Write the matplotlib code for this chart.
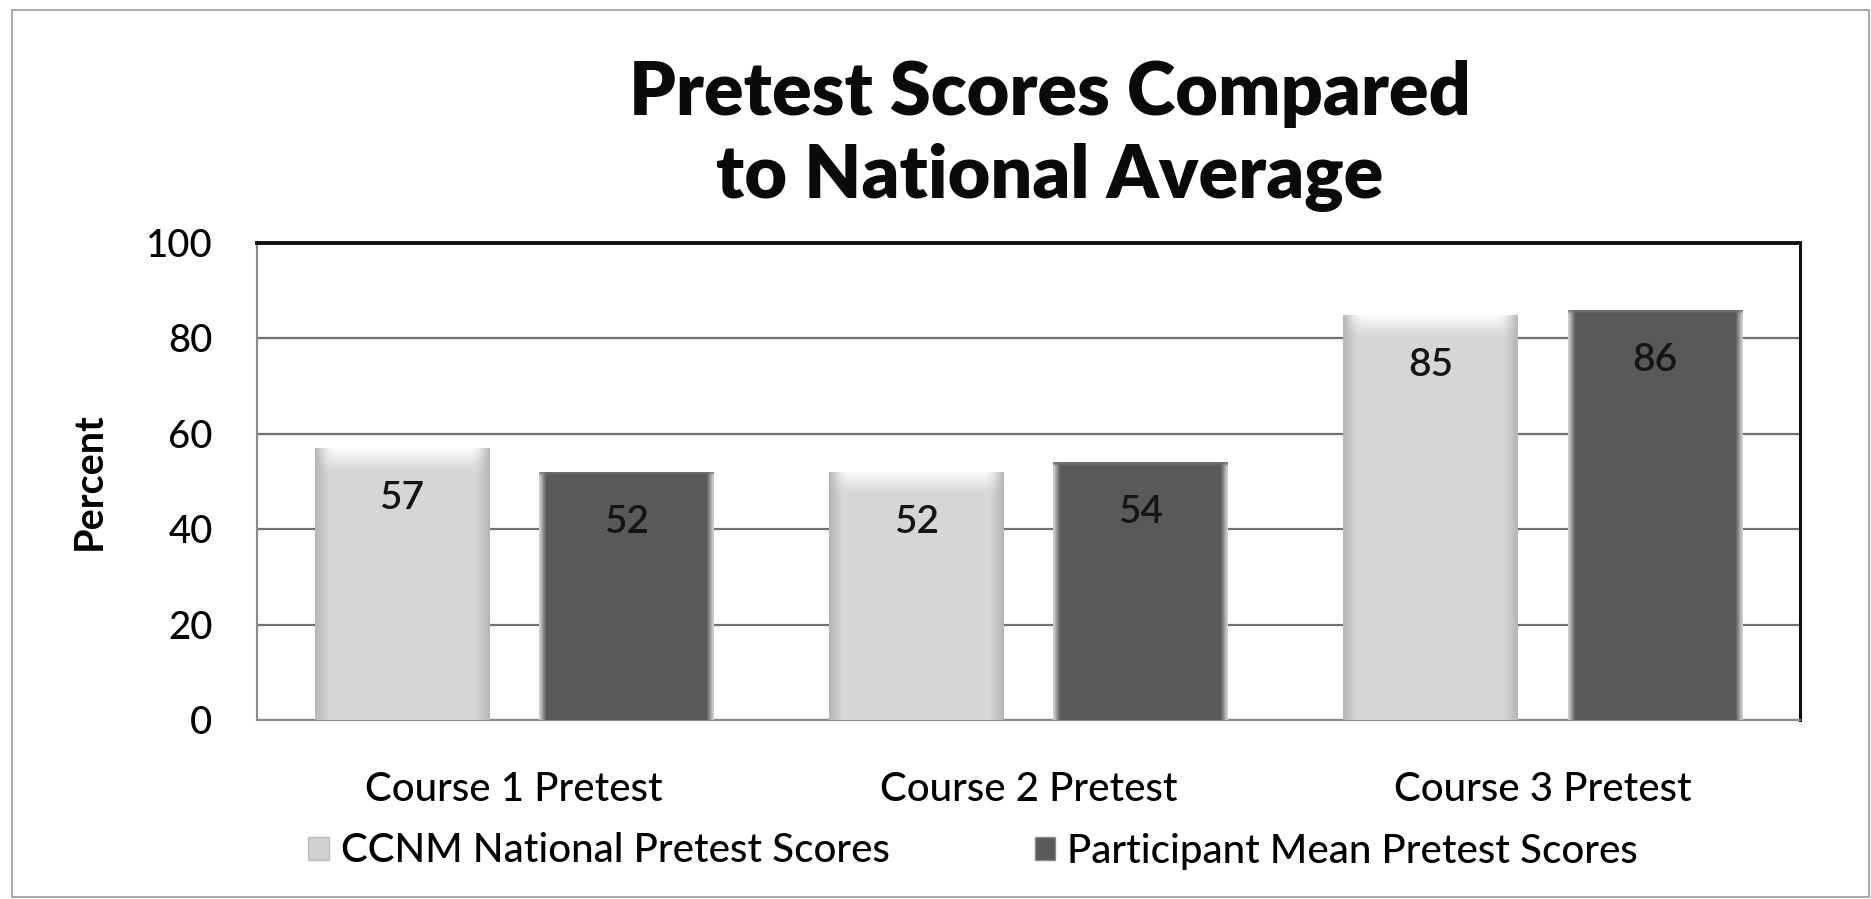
import numpy as np
import matplotlib
matplotlib.use("Agg")
import matplotlib.pyplot as plt
from matplotlib.patches import Patch, Rectangle

categories = ["Course 1 Pretest", "Course 2 Pretest", "Course 3 Pretest"]
series_names = ["CCNM National Pretest Scores", "Participant Mean Pretest Scores"]
national = [57, 52, 85]
participant = [52, 54, 86]
yticks = [0, 20, 40, 60, 80, 100]

plt.rcParams['font.family'] = ['Lato', 'DejaVu Sans']

W, H = 1871, 899
fig = plt.figure(figsize=(W / 100, H / 100), dpi=100)
fig.patch.set_facecolor('white')

# outer chart border
fig.add_artist(Rectangle((12 / W, 1 - 897 / H), (W - 14) / W, (897 - 10) / H,
                         transform=fig.transFigure, fill=False,
                         edgecolor='#9a9a9a', linewidth=1.2))

ax = fig.add_axes([257 / W, 1 - 720 / H, 1543 / W, 477 / H])

x = np.arange(len(categories))
off = 0.218
bw = 0.34

light = '#d8d8d8'
dark = '#5a5a5a'

b1 = ax.bar(x - off, national, bw, color=light, zorder=3, edgecolor='none')
b2 = ax.bar(x + off, participant, bw, color=dark, zorder=3, edgecolor='none')


def shade(rect, kind):
    x0 = rect.get_x()
    w = rect.get_width()
    h = rect.get_height()
    nu, nv = 80, 200
    u = np.linspace(0, 1, nu)[None, :]
    v = np.linspace(0, 1, nv)[:, None]
    edge = np.minimum(u, 1 - u) * w  # data units (x)
    top = (1 - v) * h  # data units (y)
    if kind == 'light':
        base = np.full((nv, nu), 0.84)
        side = np.clip(1 - edge / 0.025, 0, 1)
        base = base - 0.12 * side
        hl = np.clip(1 - top / 4.5, 0, 1)
        hl = hl * np.clip(edge / 0.035, 0, 1)
        base = base * (1 - hl) + 0.99 * hl
    else:
        base = np.full((nv, nu), 0.35)
        side = np.clip(1 - edge / 0.012, 0, 1)
        base = base * (1 - side) + 0.80 * side
        tp = np.clip(1 - top / 0.8, 0, 1)
        base = base * (1 - tp) + 0.45 * tp
    rgb = np.dstack([base, base, base])
    im = ax.imshow(rgb, extent=[x0, x0 + w, 0, h], origin='lower',
                   aspect='auto', zorder=3.5, interpolation='bilinear')
    im.set_clip_path(rect)


for r in b1:
    shade(r, 'light')
for r in b2:
    shade(r, 'dark')

ax.set_xlim(-0.5, len(categories) - 0.5)
ax.set_ylim(0, 100)
ax.set_yticks(yticks)
ax.set_xticks(x)
ax.set_xticklabels(categories, fontsize=29, fontweight='medium')
for t in ax.get_yticklabels():
    t.set_fontweight('medium')
ax.tick_params(axis='y', length=0, pad=32, labelsize=27.5)
ax.tick_params(axis='x', length=0, pad=37)
ax.yaxis.grid(True, color='#707070', linewidth=1.6, zorder=0)
ax.set_axisbelow(True)

for s in ['left', 'bottom']:
    ax.spines[s].set_color('#8a8a8a')
    ax.spines[s].set_linewidth(1.5)
ax.spines['top'].set_color('#111111')
ax.spines['top'].set_linewidth(2.8)
ax.spines['right'].set_color('#111111')
ax.spines['right'].set_linewidth(2.2)

ax.set_ylabel('Percent', fontsize=28.5, fontweight='bold')
ax.yaxis.set_label_coords(-0.097, 0.5)

for bars, vals in ((b1, national), (b2, participant)):
    for r, v in zip(bars, vals):
        ax.annotate(f'{v}', (r.get_x() + r.get_width() / 2, v),
                    xytext=(0, -36), textcoords='offset points',
                    ha='center', va='center', fontsize=28, color='#151515',
                    fontweight='semibold', zorder=5)

fig.text(1050 / W, 1 - 136 / H, 'Pretest Scores Compared\nto National Average',
         ha='center', va='center', fontsize=53, fontweight='heavy',
         linespacing=1.28, color='#0a0a0a')

handles = [Patch(facecolor='#d0d0d0', edgecolor='#bdbdbd'),
           Patch(facecolor=dark, edgecolor='#8a8a8a')]
fig.legend(handles, series_names, loc='center', ncol=2,
           bbox_to_anchor=(973 / W, 1 - 851 / H), frameon=False,
           prop={'size': 29, 'weight': 'medium'},
           handlelength=0.5, handleheight=0.5,
           handletextpad=0.3, columnspacing=3.6)

fig.savefig('out.png', dpi=100, facecolor='white')
